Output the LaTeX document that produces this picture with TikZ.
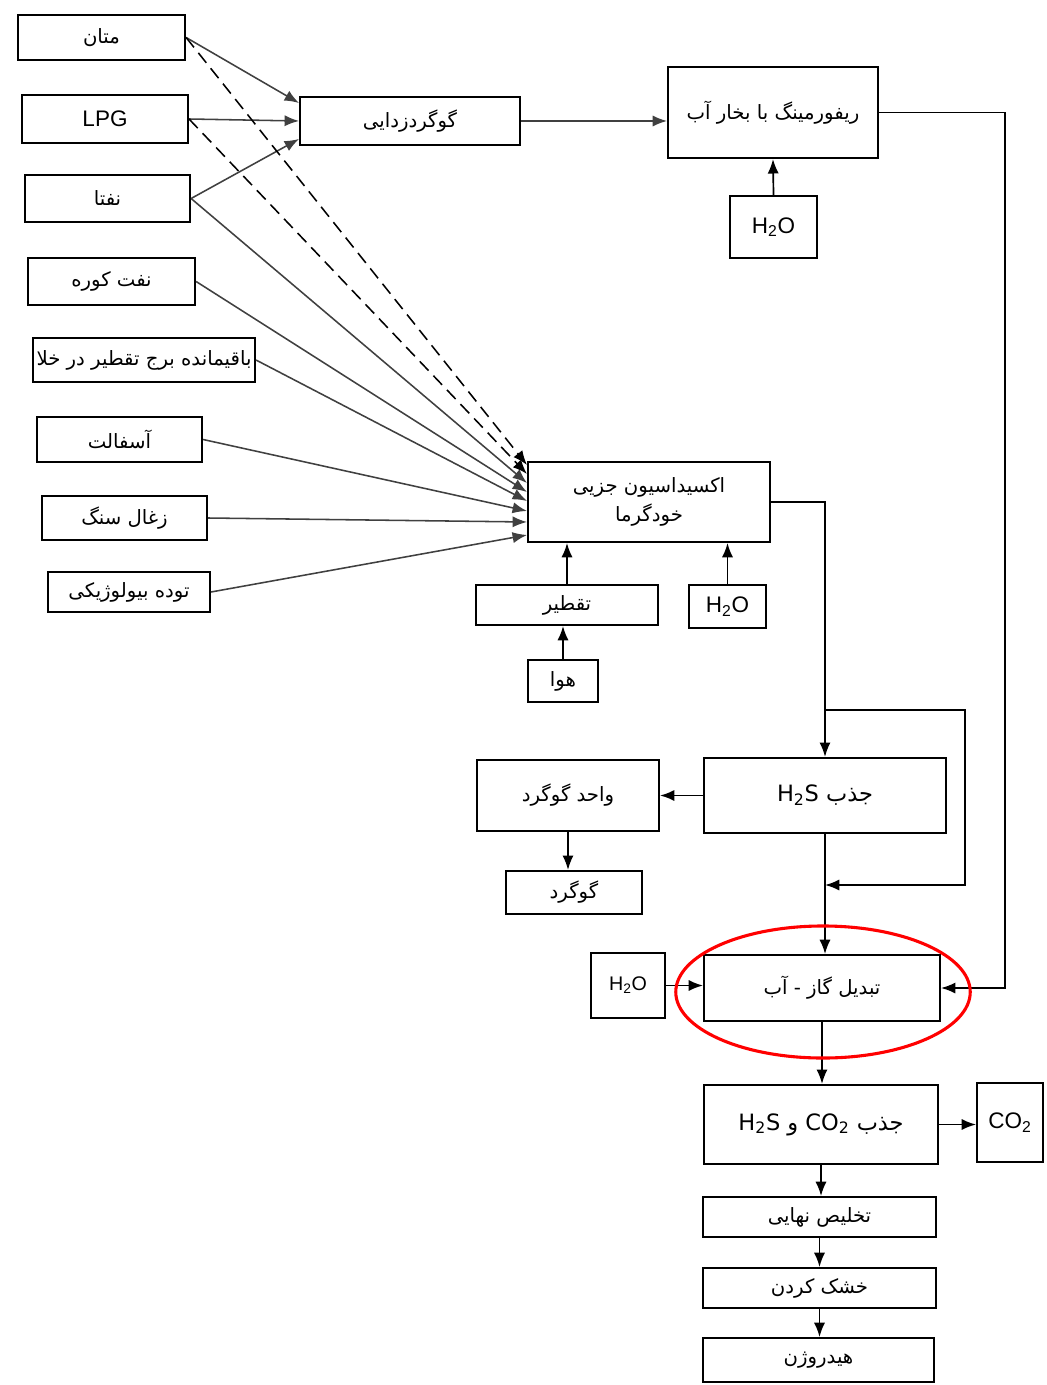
\documentclass[tikz,border=0pt]{standalone}
\usepackage{fontspec}
\setmainfont{Liberation Sans}
\newfontfamily\farsi[Script=Arabic]{DejaVu Sans}
\TeXXeTstate=1
\usetikzlibrary{arrows.meta,calc}
\newcommand{\fatxt}[1]{{\farsi\beginR #1\endR}}

\begin{document}
\begin{tikzpicture}[x=0.025cm, y=-0.025cm,
  box/.style={draw, line width=1.4pt, inner sep=2pt, align=center, font=\fontsize{14}{17}\selectfont},
  arr/.style={-{Latex[length=3.6mm,width=2.8mm]}, line width=1.2pt},
  feed/.style={arr, draw=black!75, line width=1.1pt}]
\useasboundingbox[fill=white] (0,0) rectangle (1046,1385);
\node[box, minimum width=4.18cm, minimum height=1.13cm] (methane) at (101.5,37.5) {\fatxt{متان}};
\node[box, minimum width=4.15cm, minimum height=1.2cm] (lpg) at (105,119) {\fontsize{16}{18}\selectfont LPG};
\node[box, minimum width=4.13cm, minimum height=1.18cm] (naphtha) at (107.5,198.5) {\fatxt{نفتا}};
\node[box, minimum width=4.18cm, minimum height=1.18cm] (fueloil) at (111.5,281.5) {\fatxt{نفت کوره}};
\node[box, minimum width=5.55cm, minimum height=1.1cm] (vacres) at (144,360) {\fatxt{باقیمانده برج تقطیر در خلا}};
\node[box, minimum width=4.13cm, minimum height=1.13cm] (asphalt) at (119.5,439.5) {\fatxt{آسفالت}};
\node[box, minimum width=4.13cm, minimum height=1.1cm] (coal) at (124.5,518) {\fatxt{زغال سنگ}};
\node[box, minimum width=4.05cm, minimum height=1.0cm] (biomass) at (129,592) {\fatxt{توده بیولوژیکی}};
\node[box, minimum width=5.5cm, minimum height=1.2cm] (desulf) at (410,121) {\fatxt{گوگردزدایی}};
\node[box, minimum width=5.25cm, minimum height=2.28cm] (reform) at (773,112.5) {\fatxt{ریفورمینگ با بخار آب}};
\node[box, minimum width=2.18cm, minimum height=1.55cm] (waterA) at (773.5,227) {\fontsize{16}{18}\selectfont H\textsubscript{2}O};
\node[box, minimum width=6.05cm, minimum height=2.0cm] (pox) at (649,502) {\fatxt{اکسیداسیون جزیی}\\[4pt]\fatxt{خودگرما}};
\node[box, minimum width=4.55cm, minimum height=1.0cm] (distil) at (567,605) {\fatxt{تقطیر}};
\node[box, minimum width=1.93cm, minimum height=1.08cm] (waterB) at (727.5,606.5) {\fontsize{16}{18}\selectfont H\textsubscript{2}O};
\node[box, minimum width=1.75cm, minimum height=1.05cm] (air) at (563,681) {\fatxt{هوا}};
\node[box, minimum width=6.05cm, minimum height=1.88cm] (hsabs) at (825,795.5) {\fontsize{16}{18}\selectfont\fatxt{جذب \beginL H\textsubscript{2}S\endL}};
\node[box, minimum width=4.55cm, minimum height=1.78cm] (sulfunit) at (568,795.5) {\fatxt{واحد گوگرد}};
\node[box, minimum width=3.4cm, minimum height=1.08cm] (sulfur) at (574,892.5) {\fatxt{گوگرد}};
\node[box, minimum width=1.85cm, minimum height=1.63cm] (waterC) at (628,985.5) {H\textsubscript{2}O};
\node[box, minimum width=5.9cm, minimum height=1.65cm] (shift) at (822,988) {\fatxt{تبدیل گاز - آب}};
\node[box, minimum width=5.85cm, minimum height=1.98cm] (acidabs) at (821,1124.5) {\fontsize{16}{18}\selectfont\fatxt{جذب \beginL CO\textsubscript{2}\endL{} و \beginL H\textsubscript{2}S\endL}};
\node[box, minimum width=1.65cm, minimum height=1.98cm] (co2) at (1010,1122.5) {\fontsize{16}{18}\selectfont CO\textsubscript{2}};
\node[box, minimum width=5.83cm, minimum height=1.0cm] (polish) at (819.5,1217) {\fatxt{تخلیص نهایی}};
\node[box, minimum width=5.83cm, minimum height=1.0cm] (dry) at (819.5,1288) {\fatxt{خشک کردن}};
\node[box, minimum width=5.78cm, minimum height=1.1cm] (hydrogen) at (818.5,1360) {\fatxt{هیدروژن}};
\coordinate (split) at (825,710);
\coordinate (bypass) at (965,885);
\coordinate (merge) at (825,885);
\coordinate (loop) at (1005,988);
\draw[feed] (methane.east) -- ($(desulf.west)+(0,-18)$);
\draw[feed] (lpg.east) -- (desulf.west);
\draw[feed] (naphtha.east) -- ($(desulf.west)+(0,18)$);
\draw[feed, draw=black, dash pattern=on 9pt off 5pt] (methane.east) -- ($(pox.west)+(0,-37)$);
\draw[feed, draw=black, dash pattern=on 9pt off 5pt] (lpg.east) -- ($(pox.west)+(0,-28)$);
\draw[feed] (naphtha.east) -- ($(pox.west)+(0,-19)$);
\draw[feed] (fueloil.east) -- ($(pox.west)+(0,-10)$);
\draw[feed] (vacres.east) -- ($(pox.west)+(0,-1)$);
\draw[feed] (asphalt.east) -- ($(pox.west)+(0,9)$);
\draw[feed] (coal.east) -- ($(pox.west)+(0,20)$);
\draw[feed] (biomass.east) -- ($(pox.west)+(0,33)$);
\draw[feed] (desulf.east) -- (desulf.east -| reform.west);
\draw[arr] (waterA.north) -- (reform.south);
\draw[arr] (reform.east) -| (loop) -- (shift.east);
\draw[arr] (distil.north) -- (distil.north |- pox.south);
\draw[arr] (air.north) -- (air.north |- distil.south);
\draw[arr] (waterB.north) -- (waterB.north |- pox.south);
\draw[arr] (pox.east) -| (hsabs.north);
\draw[arr] (split) -| (bypass) -- (merge);
\draw[arr] (hsabs.west) -- (sulfunit.east);
\draw[arr] (sulfunit.south) -- (sulfunit.south |- sulfur.north);
\draw[arr] (hsabs.south) -- (hsabs.south |- shift.north);
\draw[arr] (waterC.east) -- (waterC.east -| shift.west);
\draw[arr] (shift.south) -- (shift.south |- acidabs.north);
\draw[arr] (acidabs.east) -- (acidabs.east -| co2.west);
\draw[arr] (acidabs.south) -- (acidabs.south |- polish.north);
\draw[arr] (polish.south) -- (polish.south |- dry.north);
\draw[arr] (dry.south) -- (dry.south |- hydrogen.north);
\draw[red, line width=2.2pt] (823,992) ellipse [x radius=3.68cm, y radius=1.65cm];
\end{tikzpicture}
\end{document}
